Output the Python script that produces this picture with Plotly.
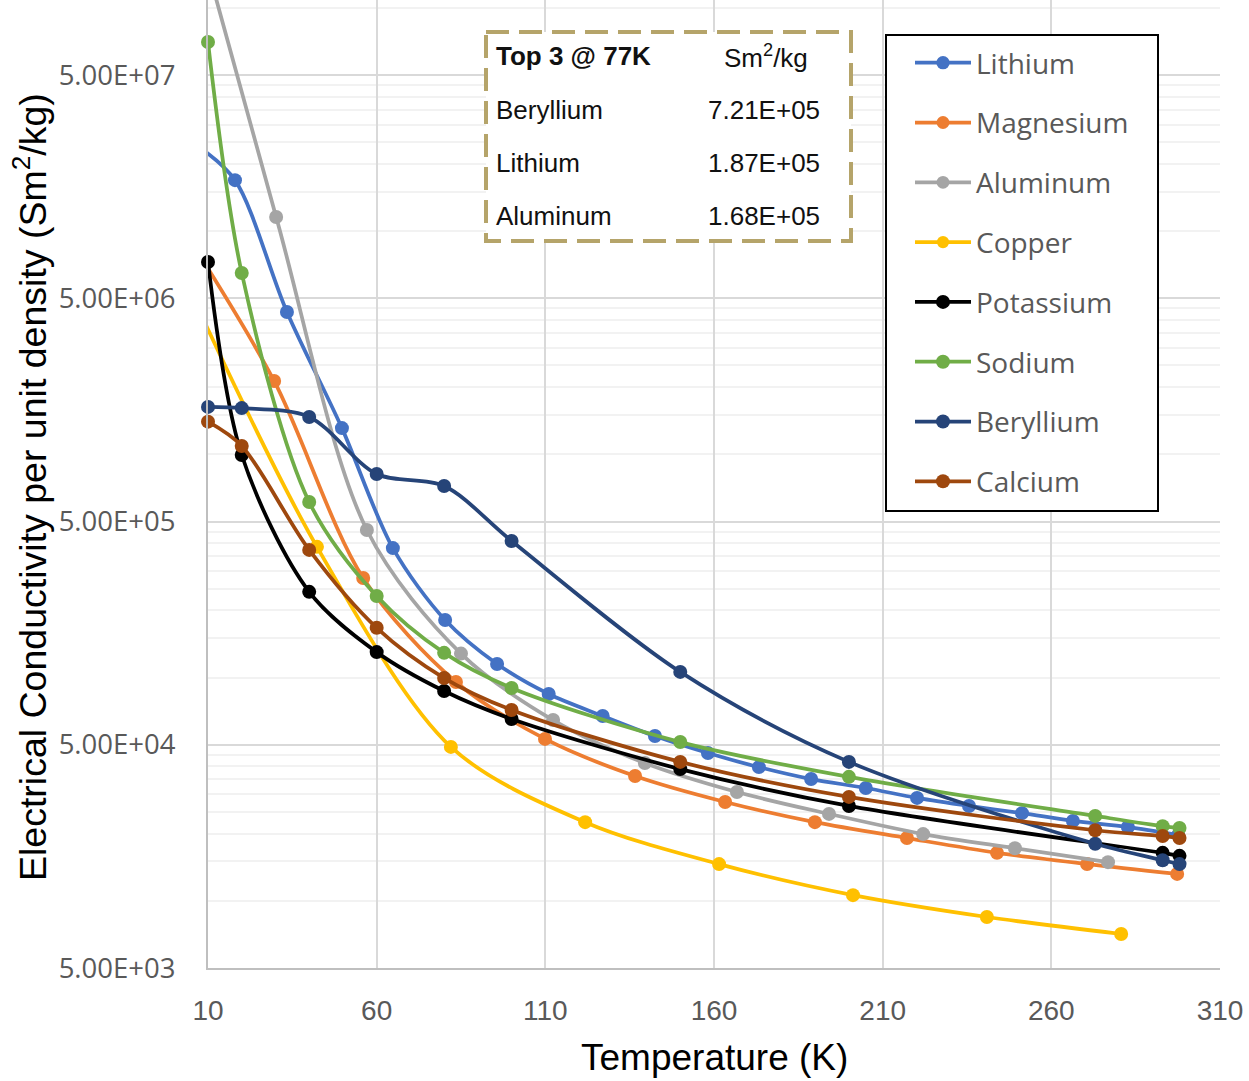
import math
import plotly.graph_objects as go

# ---------------- data ----------------
series_names = ["Lithium", "Magnesium", "Aluminum", "Copper",
                "Potassium", "Sodium", "Beryllium", "Calcium"]
series_colors = ["#4472C4", "#ED7D31", "#A5A5A5", "#FFC000",
                 "#000000", "#70AD47", "#264478", "#9E480E"]

li_T = [7, 18, 33.4, 49.7, 64.8, 80.3, 95.7, 111, 127, 142.5, 158.2, 173.3,
        188.8, 205, 220.2, 235.6, 251.3, 266.4, 282.7, 297.6]
li_v = [2.4e7, 1.69e7, 4.34e6, 1.31e6, 3.80e5, 1.81e5, 1.15e5, 8.44e4, 6.73e4,
        5.47e4, 4.59e4, 3.97e4, 3.51e4, 3.20e4, 2.89e4, 2.66e4, 2.47e4, 2.28e4,
        2.14e4, 1.97e4]

mg_T = [3, 29.6, 56, 83.5, 109.9, 136.6, 163.3, 189.9, 217.2, 243.9, 270.6, 297.3]
mg_v = [1.0e7, 2.13e6, 2.79e5, 9.55e4, 5.31e4, 3.62e4, 2.77e4, 2.25e4, 1.91e4,
        1.64e4, 1.46e4, 1.32e4]

al_T = [3, 30.2, 57.1, 85, 112.3, 139.5, 166.8, 194.1, 222, 249.2, 276.8]
al_v = [3.6e8, 1.156e7, 4.58e5, 1.28e5, 6.45e4, 4.14e4, 3.07e4, 2.45e4, 1.99e4,
        1.72e4, 1.49e4]

cu_T = [2.6, 42.3, 82, 121.8, 161.5, 201.2, 240.9, 280.7]
cu_v = [6.3e6, 3.85e5, 4.89e4, 2.25e4, 1.46e4, 1.06e4, 8.46e3, 7.10e3]

k_T = [10, 20, 40, 60, 80, 100, 150, 200, 293, 298]
k_v = [7.27e6, 9.93e5, 2.42e5, 1.30e5, 8.70e4, 6.52e4, 3.89e4, 2.66e4, 1.64e4, 1.59e4]

na_T = [10, 20, 40, 60, 80, 100, 150, 200, 273, 293, 298]
na_v = [7.03e7, 6.49e6, 6.11e5, 2.32e5, 1.29e5, 8.98e4, 5.14e4, 3.59e4, 2.40e4,
        2.16e4, 2.12e4]

be_T = [10, 20, 40, 60, 80, 100, 150, 200, 273, 293, 298]
be_v = [1.63e6, 1.61e6, 1.47e6, 8.16e5, 7.21e5, 4.09e5, 1.06e5, 4.19e4, 1.80e4,
        1.52e4, 1.46e4]

ca_T = [10, 20, 40, 60, 80, 100, 150, 200, 273, 293, 298]
ca_v = [1.40e6, 1.09e6, 3.73e5, 1.67e5, 9.95e4, 7.16e4, 4.19e4, 2.92e4, 2.07e4,
        1.95e4, 1.91e4]

x_ticks = [10, 60, 110, 160, 210, 260, 310]
y_ticks = [5e3, 5e4, 5e5, 5e6, 5e7]
y_ticktext = ["5.00E+03", "5.00E+04", "5.00E+05", "5.00E+06", "5.00E+07"]

top3_title = "Top 3 @ 77K"
top3_unit = "Sm<sup>2</sup>/kg"
top3_names = ["Beryllium", "Lithium", "Aluminum"]
top3_vals = ["7.21E+05", "1.87E+05", "1.68E+05"]

series_T = [li_T, mg_T, al_T, cu_T, k_T, na_T, be_T, ca_T]
series_v = [li_v, mg_v, al_v, cu_v, k_v, na_v, be_v, ca_v]

# ---------------- figure ----------------
X_MIN, X_MAX = 10, 310
LW = 3.75
fig = go.Figure()
for name, col, T, v in zip(series_names, series_colors, series_T, series_v):
    sizes = [14 if X_MIN <= t <= X_MAX else 0 for t in T]
    fig.add_trace(go.Scatter(
        x=T, y=v, name=name, mode="lines+markers",
        line=dict(color=col, width=LW, shape="spline", smoothing=0.9),
        marker=dict(color=col, size=sizes, line=dict(width=0), opacity=1),
        cliponaxis=False, legendgroup=name,
    ))

y_lo = math.log10(5e3)
y_hi = math.log10(5e7) + 75 / 223.25

minor_vals = []
for base in y_ticks:
    for m in range(2, 10):
        val = base * m
        if math.log10(val) <= y_hi:
            minor_vals.append(val)


def px_x(p):
    return (p - 208) / 1012


def px_y(p):
    return 1 - p / 968


LEG_X = 911  # pixel of legend item origin
fig.update_layout(
    width=1249, height=1081,
    margin=dict(l=208, r=29, t=0, b=113),
    plot_bgcolor="white", paper_bgcolor="white",
    showlegend=True,
    legend=dict(
        x=px_x(LEG_X - 1), xanchor="left",
        y=px_y(38), yanchor="top",
        bgcolor="rgba(0,0,0,0)", borderwidth=0,
        font=dict(family="Open Sans", size=28, color="#595959"),
        tracegroupgap=20.4, itemwidth=56,
    ),
    xaxis=dict(
        range=[X_MIN, X_MAX], tickmode="array", tickvals=x_ticks,
        showgrid=True, gridcolor="#D9D9D9", gridwidth=2,
        showline=True, linecolor="#BFBFBF", linewidth=2,
        zeroline=False, ticks="",
        tickfont=dict(family="Liberation Sans, Arial", size=28, color="#595959"),
        ticklabelstandoff=16,
    ),
    yaxis=dict(
        type="log", range=[y_lo, y_hi],
        tickmode="array", tickvals=y_ticks, ticktext=y_ticktext,
        showgrid=True, gridcolor="#D9D9D9", gridwidth=2,
        showline=True, linecolor="#BFBFBF", linewidth=2,
        zeroline=False, ticks="",
        tickfont=dict(family="Open Sans", size=27.5, color="#595959"),
        ticklabelstandoff=25,
        minor=dict(tickmode="array", tickvals=minor_vals, showgrid=True,
                   gridcolor="#F2F2F2", gridwidth=2, ticks=""),
    ),
)

shapes = [
    dict(type="rect", xref="paper", yref="paper",
         x0=px_x(886), x1=px_x(1158), y0=px_y(35), y1=px_y(511),
         line=dict(color="black", width=2), fillcolor="white", layer="above"),
    dict(type="rect", xref="paper", yref="paper",
         x0=px_x(486), x1=px_x(851), y0=px_y(32), y1=px_y(241),
         line=dict(color="#B5A46A", width=4, dash="23px,10px"),
         fillcolor="white", layer="above"),
]
fig.update_layout(shapes=shapes)

txt_font = dict(family="Liberation Sans, Arial", size=26, color="#111111")
ann = [
    dict(text="<b>" + top3_title + "</b>", x=px_x(494), y=px_y(56), xanchor="left"),
    dict(text=top3_unit, x=px_x(766), y=px_y(56), xanchor="center"),
]
for i, (n, val) in enumerate(zip(top3_names, top3_vals)):
    yy = [110, 163, 216][i]
    ann.append(dict(text=n, x=px_x(494), y=px_y(yy), xanchor="left"))
    ann.append(dict(text=val, x=px_x(822), y=px_y(yy), xanchor="right"))
for a in ann:
    a.update(xref="paper", yref="paper", yanchor="middle", showarrow=False, font=txt_font)

ann.append(dict(text="Temperature (K)", xref="paper", yref="paper",
                x=px_x(714), y=px_y(1057), xanchor="center", yanchor="middle",
                showarrow=False,
                font=dict(family="Liberation Sans, Arial", size=37, color="#000000")))
ann.append(dict(text="Electrical Conductivity per unit density (Sm<sup>2</sup>/kg)",
                xref="paper", yref="paper", textangle=-90,
                x=px_x(30), y=px_y(487), xanchor="center", yanchor="middle",
                showarrow=False,
                font=dict(family="Liberation Sans, Arial", size=37.5, color="#000000")))
fig.update_layout(annotations=ann)

fig.write_html("out.html")
